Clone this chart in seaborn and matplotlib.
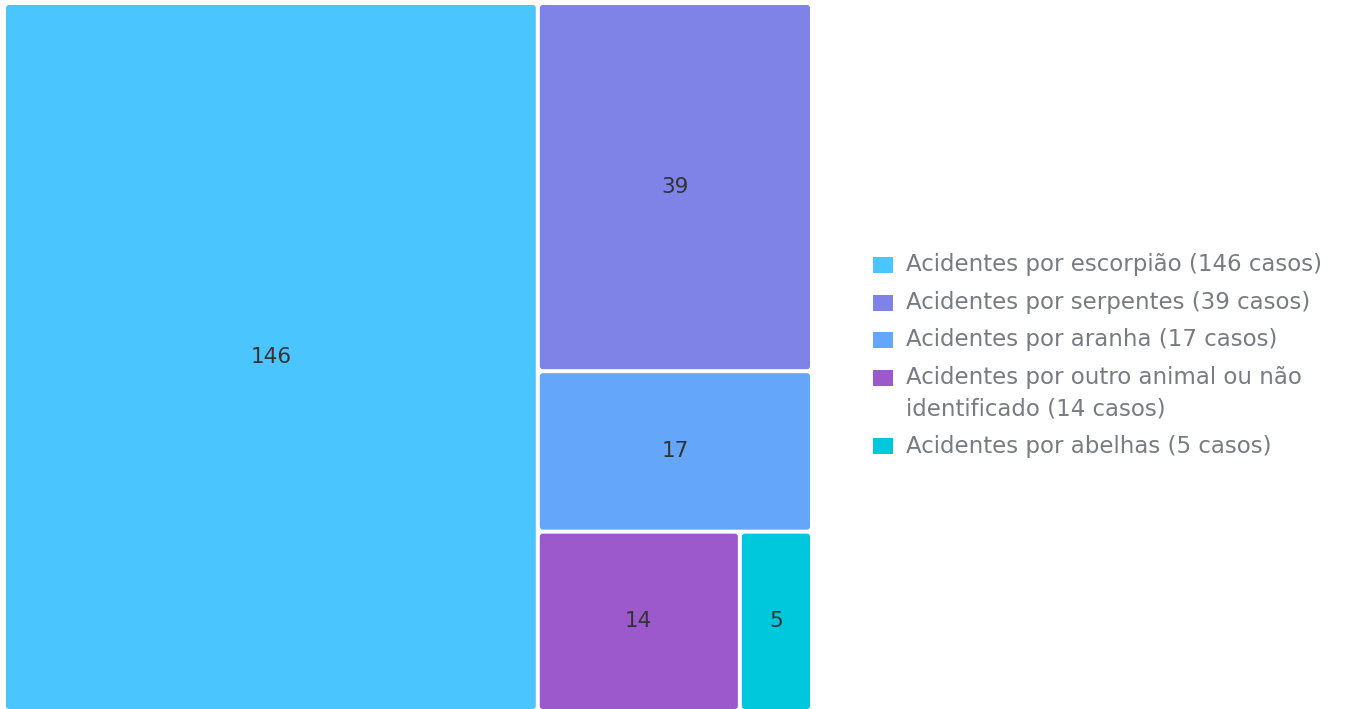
import matplotlib
matplotlib.use("Agg")
import matplotlib.pyplot as plt
from matplotlib.patches import FancyBboxPatch, Rectangle
import seaborn as sns

categories = [
    "Acidentes por escorpião (146 casos)",
    "Acidentes por serpentes (39 casos)",
    "Acidentes por aranha (17 casos)",
    "Acidentes por outro animal ou não\nidentificado (14 casos)",
    "Acidentes por abelhas (5 casos)",
]
values = [146, 39, 17, 14, 5]
colors = ["#4BC5FE", "#7F82E6", "#64A6F9", "#9B59CB", "#00C8DC"]

sns.set_theme(style="white")
plt.rcParams['font.family'] = ['DejaVu Sans']


def worst(row, w):
    s = sum(row)
    return max(max(w * w * r / (s * s), s * s / (w * w * r)) for r in row)


def layout_row(row, x, y, dx, dy):
    s = sum(row)
    rects = []
    if dx >= dy:
        width = s / dy
        cy = y
        for r in row:
            h = r / width
            rects.append((x, cy, width, h))
            cy += h
        return rects, (x + width, y, dx - width, dy)
    else:
        height = s / dx
        cx = x
        for r in row:
            w = r / height
            rects.append((cx, y, w, height))
            cx += w
        return rects, (x, y + height, dx, dy - height)


def squarify(vals, x, y, dx, dy):
    total = sum(vals)
    scaled = [v * dx * dy / total for v in vals]
    rects = []
    rest = list(scaled)
    box = (x, y, dx, dy)
    while rest:
        bx, by, bdx, bdy = box
        side = min(bdx, bdy)
        row = [rest.pop(0)]
        while rest and worst(row + [rest[0]], side) <= worst(row, side):
            row.append(rest.pop(0))
        r, box = layout_row(row, bx, by, bdx, bdy)
        rects.extend(r)
    return rects


FW, FH = 1363, 709
W, H = 808.0, 708.0
fig = plt.figure(figsize=(FW / 100, FH / 100), dpi=100)
ax = fig.add_axes([4 / FW, -2 / FH, W / FW, H / FH])
ax.set_xlim(0, W)
ax.set_ylim(H, 0)
ax.axis("off")

rects = squarify(values, 0, 0, W, H)
gap = 2.0
for (rx, ry, rw, rh), v, c in zip(rects, values, colors):
    p = FancyBboxPatch((rx + gap, ry + gap), rw - 2 * gap, rh - 2 * gap,
                       boxstyle="round,pad=0,rounding_size=3",
                       facecolor=c, edgecolor="none")
    ax.add_patch(p)
    ax.text(rx + rw / 2, ry + rh / 2, str(v), ha="center", va="center",
            fontsize=15.5, color="#333333")

# legend (figure pixel coordinates)
y = 265.0
for lab, c in zip(categories, colors):
    lines = lab.split("\n")
    fig.add_artist(Rectangle((873 / FW, 1 - (y + 8) / FH), 20 / FW, 16 / FH,
                             transform=fig.transFigure, facecolor=c,
                             edgecolor="none"))
    ly = y
    for ln in lines:
        fig.text(906 / FW, 1 - ly / FH, ln, ha="left", va="center",
                 fontsize=16.5, color="#787c82")
        ly += 31
    y = ly - 31 + 37.5

fig.savefig("out.png", dpi=100)
